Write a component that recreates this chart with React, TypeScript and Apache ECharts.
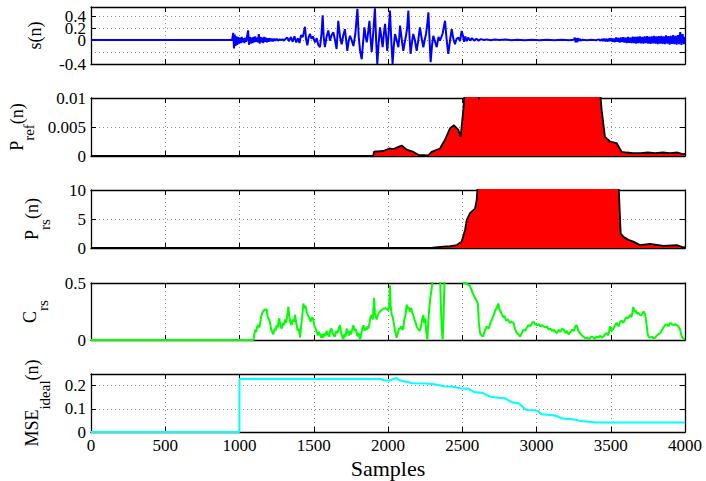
import React, { useEffect, useRef } from "react";
import * as echarts from "echarts";

// ---------- data ----------
const xTickValues = [0, 500, 1000, 1500, 2000, 2500, 3000, 3500, 4000];

// s(n)
const sN = [0, 950, 958, 963, 968, 973, 979, 985, 991, 997, 1003, 1009, 1015, 1021, 1027, 1033, 1039, 1045, 1051, 1058, 1064, 1070, 1076, 1082, 1088, 1094, 1100, 1106, 1112, 1118, 1124, 1130, 1136, 1142, 1148, 1154, 1160, 1166, 1172, 1178, 1184, 1190, 1196, 1202, 1210, 1218, 1226, 1234, 1242, 1250, 1260, 1270, 1280, 1290, 1300, 1310, 1322, 1334, 1346, 1358, 1370, 1382, 1394, 1404, 1414, 1426, 1434, 1441, 1448, 1457, 1466, 1475, 1485, 1494, 1509, 1520, 1530, 1542, 1552, 1560, 1567, 1575, 1586, 1598, 1609, 1620, 1632, 1643, 1654, 1665, 1677, 1688, 1699, 1710, 1718, 1726, 1735, 1744, 1755, 1767, 1780, 1794, 1803, 1812, 1823, 1832, 1841, 1849, 1857, 1866, 1875, 1882, 1890, 1900, 1912, 1920, 1928, 1937, 1946, 1955, 1964, 1972, 1980, 1988, 1995, 2004, 2013, 2022, 2031, 2039, 2047, 2058, 2070, 2076, 2081, 2092, 2103, 2112, 2121, 2129, 2137, 2145, 2152, 2161, 2170, 2181, 2193, 2204, 2215, 2227, 2238, 2247, 2256, 2264, 2272, 2280, 2287, 2296, 2305, 2316, 2328, 2340, 2350, 2367, 2384, 2395, 2406, 2418, 2429, 2440, 2451, 2462, 2474, 2485, 2496, 2504, 2512, 2520, 2530, 2540, 2552, 2565, 2580, 2595, 2610, 2625, 2645, 2665, 2690, 2720, 2750, 2790, 2830, 2870, 2920, 2970, 3020, 3070, 3120, 3170, 3220, 3250, 3258, 3263, 3268, 3273, 3278, 3283, 3290, 3298, 3310, 3340, 3370, 3400, 3420, 3430, 3440, 3448, 3456, 3464, 3472, 3480, 3488, 3496, 3504, 3512, 3520, 3528, 3536, 3544, 3552, 3560, 3568, 3576, 3584, 3592, 3600, 3608, 3616, 3624, 3632, 3640, 3648, 3656, 3664, 3672, 3680, 3688, 3696, 3704, 3712, 3720, 3728, 3736, 3744, 3752, 3760, 3768, 3776, 3784, 3792, 3800, 3808, 3816, 3824, 3832, 3840, 3848, 3856, 3864, 3872, 3880, 3888, 3896, 3904, 3912, 3920, 3928, 3936, 3944, 3952, 3960, 3968, 3976, 3984, 3992, 4000];
const sV = [0, 0, 0.12, -0.14, 0.09, -0.1, 0.06, -0.08, 0.05, -0.06, 0.04, -0.05, 0.05, -0.04, 0.03, -0.05, 0.04, -0.03, 0.06, 0.16, -0.08, 0.05, -0.06, 0.04, -0.05, 0.05, -0.04, 0.06, -0.03, 0.04, -0.04, 0.1, -0.06, 0.05, -0.04, 0.04, -0.05, 0.05, -0.03, 0.04, -0.04, 0.03, -0.03, 0.03, -0.02, 0.02, -0.02, 0.02, -0.01, 0.02, -0.01, 0.01, 0, 0.01, -0.01, 0.02, 0.04, -0.02, 0.05, -0.03, 0.06, -0.04, 0.03, -0.05, 0.08, 0.05, 0.14, 0.22, 0.02, -0.09, 0.05, 0.1, 0.02, 0.06, -0.04, 0.03, -0.08, -0.12, 0.1, 0.41, 0.05, -0.12, 0.05, 0.16, -0.01, 0.08, 0.13, 0, -0.15, 0.32, 0.05, -0.07, 0.08, 0.18, 0, -0.18, -0.02, 0.07, 0, -0.1, 0.1, 0.52, 0.05, -0.18, -0.32, -0.05, 0.21, 0.06, -0.04, 0.12, 0.32, 0.05, -0.2, 0.1, 0.53, 0, -0.4, -0.05, 0.21, 0.05, -0.12, 0.1, 0.27, 0.05, -0.18, 0.1, 0.49, 0, -0.4, -0.1, 0.1, 0, -0.12, 0.05, 0.24, 0.02, -0.18, -0.05, 0.07, 0.2, 0.49, 0.05, -0.23, -0.05, 0.1, 0, -0.18, 0, 0.21, 0.02, -0.12, 0, 0.1, 0.25, 0.46, 0, -0.37, -0.1, 0.07, -0.02, -0.12, 0.05, -0.01, 0.1, 0.32, 0, -0.23, 0, 0.18, 0.02, -0.07, 0.02, 0.04, -0.02, 0.15, 0.08, -0.03, 0.06, -0.02, 0.04, -0.01, 0.03, -0.01, 0.02, -0.01, 0.015, 0, 0.01, -0.005, 0.01, 0, 0.008, -0.004, 0.006, -0.004, 0.005, -0.003, 0.004, -0.003, 0.004, -0.003, 0.003, 0.04, -0.04, 0.03, -0.04, 0.035, -0.02, 0.02, -0.01, 0.005, -0.004, 0.006, -0.005, 0.01, -0.012, 0.015, -0.015, 0.02, -0.02, 0.02, -0.025, 0.025, -0.02, 0.03, -0.03, 0.025, -0.035, 0.04, -0.03, 0.035, -0.04, 0.04, -0.035, 0.045, -0.04, 0.04, -0.05, 0.05, -0.045, 0.04, -0.05, 0.055, -0.05, 0.05, -0.06, 0.055, -0.05, 0.06, -0.055, 0.05, -0.06, 0.06, -0.05, 0.065, -0.06, 0.055, -0.065, 0.06, -0.055, 0.07, -0.06, 0.06, -0.07, 0.065, -0.06, 0.07, -0.065, 0.06, -0.07, 0.075, -0.06, 0.065, -0.075, 0.07, -0.065, 0.08, -0.07, 0.07, -0.075, 0.08, -0.07, 0.13, -0.08, 0.1, -0.07, 0.05];

// P_ref(n)
const pRefN = [0, 1900, 1906, 1968, 2009, 2036, 2092, 2126, 2171, 2204, 2271, 2294, 2350, 2384, 2418, 2444, 2474, 2489, 2507, 2519, 2560, 2605, 2613, 2621, 2700, 3000, 3300, 3420, 3428, 3439, 3461, 3495, 3540, 3574, 3607, 3650, 3700, 3750, 3800, 3850, 3900, 3950, 3990, 4000];
const pRefV = [0, 0, 0.00074, 0.00086, 0.0013, 0.0012, 0.0018, 0.0011, 0.0007, 0.0002, 0.0001, 0.0007, 0.0013, 0.0028, 0.0048, 0.0053, 0.0045, 0.0033, 0.0079, 0.012, 0.03, 0.03, 0.0097, 0.03, 0.05, 0.06, 0.05, 0.02, 0.011, 0.0079, 0.0033, 0.0025, 0.0022, 0.0007, 0.0006, 0.0005, 0.0005, 0.0006, 0.0005, 0.0006, 0.0005, 0.0006, 0.0003, 0.0004];

// P_rs(n)
const pRsN = [0, 2300, 2373, 2418, 2463, 2496, 2519, 2530, 2552, 2586, 2597, 2608, 2700, 3000, 3300, 3551, 3567, 3585, 3619, 3652, 3697, 3765, 3855, 3944, 3989, 4000];
const pRsV = [0, 0.05, 0.23, 0.3, 0.5, 1.1, 3.1, 4.8, 6.0, 6.8, 8.3, 12, 30, 40, 30, 12, 2.5, 1.95, 1.4, 1.1, 0.5, 0.7, 0.35, 0.5, 0.1, 0.15];

// C_rs
const cN = [0, 1093, 1100, 1105, 1112, 1120, 1127, 1135, 1145, 1153, 1160, 1170, 1176, 1183, 1190, 1198, 1205, 1212, 1220, 1228, 1236, 1242, 1250, 1258, 1263, 1268, 1276, 1284, 1292, 1300, 1306, 1314, 1322, 1329, 1336, 1343, 1351, 1358, 1366, 1374, 1382, 1392, 1400, 1407, 1415, 1422, 1430, 1437, 1444, 1452, 1460, 1468, 1479, 1488, 1497, 1505, 1512, 1519, 1527, 1534, 1542, 1550, 1557, 1564, 1572, 1580, 1587, 1595, 1605, 1612, 1620, 1628, 1635, 1643, 1652, 1660, 1668, 1677, 1685, 1692, 1699, 1706, 1714, 1722, 1730, 1737, 1744, 1752, 1760, 1767, 1775, 1782, 1789, 1796, 1803, 1812, 1820, 1827, 1834, 1842, 1850, 1857, 1863, 1868, 1876, 1882, 1890, 1898, 1906, 1912, 1918, 1924, 1932, 1940, 1946, 1955, 1965, 1980, 1992, 2002, 2008, 2013, 2018, 2025, 2032, 2040, 2048, 2058, 2066, 2074, 2081, 2090, 2096, 2103, 2110, 2118, 2126, 2132, 2138, 2148, 2156, 2163, 2170, 2178, 2186, 2193, 2200, 2208, 2215, 2222, 2230, 2238, 2243, 2249, 2255, 2260, 2265, 2271, 2278, 2286, 2294, 2300, 2317, 2350, 2356, 2362, 2368, 2374, 2380, 2391, 2500, 2506, 2520, 2535, 2550, 2565, 2585, 2595, 2605, 2612, 2620, 2630, 2640, 2652, 2665, 2678, 2690, 2700, 2712, 2722, 2732, 2742, 2750, 2758, 2765, 2775, 2785, 2795, 2808, 2820, 2832, 2845, 2855, 2868, 2878, 2890, 2900, 2912, 2925, 2935, 2946, 2958, 2970, 2980, 2990, 3003, 3015, 3025, 3036, 3048, 3060, 3070, 3082, 3093, 3105, 3115, 3128, 3138, 3150, 3160, 3172, 3183, 3195, 3205, 3216, 3228, 3240, 3252, 3262, 3271, 3282, 3293, 3305, 3315, 3328, 3340, 3350, 3360, 3372, 3382, 3394, 3405, 3418, 3428, 3440, 3450, 3462, 3473, 3484, 3495, 3506, 3518, 3530, 3540, 3552, 3563, 3574, 3585, 3596, 3607, 3618, 3630, 3640, 3652, 3660, 3668, 3675, 3685, 3696, 3708, 3720, 3731, 3740, 3748, 3753, 3765, 3777, 3787, 3800, 3810, 3820, 3832, 3845, 3855, 3865, 3878, 3888, 3899, 3910, 3922, 3934, 3944, 3955, 3965, 3978, 3990, 4000];
const cV = [0, 0, 0.05, 0.09, 0.07, 0.12, 0.13, 0.11, 0.2, 0.24, 0.25, 0.27, 0.26, 0.27, 0.2, 0.18, 0.16, 0.1, 0.07, 0.05, 0.1, 0.08, 0.13, 0.11, 0.17, 0.19, 0.12, 0.1, 0.15, 0.13, 0.18, 0.15, 0.22, 0.29, 0.2, 0.15, 0.13, 0.18, 0.16, 0.22, 0.15, 0.08, 0.1, 0.02, 0.12, 0.2, 0.32, 0.28, 0.3, 0.25, 0.22, 0.2, 0.16, 0.2, 0.18, 0.12, 0.1, 0.08, 0.04, 0.07, 0.05, 0.02, 0.05, 0.02, 0.06, 0.04, 0.08, 0.05, 0.03, 0.09, 0.1, 0.06, 0.04, 0.03, 0.08, 0.06, 0.1, 0.13, 0.06, 0.03, 0.003, 0.05, 0.03, 0.1, 0.07, 0.04, 0.08, 0.05, 0.1, 0.13, 0.08, 0.1, 0.06, 0.03, 0.06, 0.003, 0.06, 0.1, 0.13, 0.08, 0.11, 0.09, 0.12, 0.1, 0.15, 0.2, 0.22, 0.18, 0.37, 0.24, 0.2, 0.18, 0.22, 0.24, 0.25, 0.26, 0.27, 0.28, 0.27, 0.26, 0.3, 0.48, 0.3, 0.22, 0.2, 0.14, 0.08, 0.02, 0.06, 0.1, 0.1, 0.12, 0.09, 0.1, 0.18, 0.22, 0.31, 0.27, 0.29, 0.25, 0.28, 0.24, 0.22, 0.18, 0.15, 0.12, 0.1, 0.09, 0.08, 0.12, 0.18, 0.22, 0.15, 0.19, 0.12, 0.05, 0.003, 0.15, 0.28, 0.38, 0.45, 0.52, 0.6, 0.6, 0.3, 0.1, 0, 0.2, 0.5, 0.6, 0.6, 0.5, 0.5, 0.49, 0.48, 0.43, 0.37, 0.35, 0.32, 0.15, 0.06, 0.04, 0.03, 0.08, 0.12, 0.1, 0.15, 0.18, 0.22, 0.26, 0.28, 0.32, 0.27, 0.25, 0.23, 0.2, 0.21, 0.17, 0.18, 0.15, 0.16, 0.15, 0.1, 0.06, 0.05, 0.03, 0.06, 0.09, 0.08, 0.11, 0.13, 0.12, 0.15, 0.16, 0.14, 0.13, 0.14, 0.12, 0.13, 0.12, 0.11, 0.12, 0.09, 0.1, 0.08, 0.09, 0.07, 0.06, 0.09, 0.07, 0.1, 0.09, 0.06, 0.08, 0.05, 0.07, 0.09, 0.08, 0.12, 0.13, 0.08, 0.06, 0.04, 0.03, 0.015, 0.02, 0.01, 0.015, 0.03, 0.02, 0.01, 0.03, 0.02, 0.04, 0.02, 0.03, 0.05, 0.06, 0.04, 0.12, 0.08, 0.1, 0.13, 0.15, 0.12, 0.16, 0.17, 0.15, 0.18, 0.2, 0.19, 0.22, 0.2, 0.29, 0.25, 0.26, 0.23, 0.24, 0.22, 0.22, 0.25, 0.23, 0.15, 0.06, 0.03, 0.02, 0.03, 0.015, 0.02, 0.04, 0.05, 0.06, 0.09, 0.11, 0.13, 0.14, 0.12, 0.15, 0.14, 0.13, 0.14, 0.13, 0.12, 0.1, 0.03, 0.01, 0.015];

// MSE_ideal(n)
const mseN = [0, 999, 1000, 1955, 1975, 2010, 2035, 2058, 2075, 2110, 2140, 2165, 2250, 2300, 2340, 2370, 2430, 2460, 2490, 2540, 2560, 2580, 2640, 2660, 2690, 2740, 2790, 2815, 2840, 2880, 2900, 2920, 2934, 2990, 3010, 3034, 3110, 3140, 3169, 3240, 3270, 3300, 3350, 3405, 4000];
const mseV = [0, 0, 0.228, 0.228, 0.222, 0.222, 0.228, 0.233, 0.224, 0.218, 0.214, 0.21, 0.209, 0.207, 0.203, 0.197, 0.196, 0.192, 0.189, 0.186, 0.18, 0.172, 0.168, 0.16, 0.152, 0.148, 0.145, 0.135, 0.127, 0.124, 0.112, 0.1, 0.095, 0.094, 0.09, 0.077, 0.072, 0.068, 0.058, 0.055, 0.052, 0.047, 0.044, 0.041, 0.041];

// y-axis ranges / ticks
const yMins = [-0.4, 0, 0, 0, 0];
const yMaxs = [0.55, 0.01, 10, 0.5, 0.25];
const yIntervals = [0.2, 0.005, 5, 0.5, 0.1];
const yNames = [
  "{m|s(n)}",
  "{m|P}{s|ref}{m|(n)}",
  "{m|P}{s|rs}{m|(n)}",
  "{m|C}{s|rs}",
  "{m|MSE}{s|ideal}{m|(n)}",
];
const xName = "Samples";

// ---------- layout / style ----------
const FONT = "'Liberation Serif', 'Times New Roman', serif";
const gridTops = [7, 98, 190, 283, 374];
const gridHeights = [57, 58, 58, 57, 58];
const nameGaps = [45, 46, 39, 41, 39];
const hideMax = [true, false, false, false, true];

const zip = (a: number[], b: number[]) => a.map((v, i) => [v, b[i]]);

export default function App() {
  const ref = useRef<HTMLDivElement>(null);
  useEffect(() => {
    if (!ref.current) return;
    const chart = echarts.init(ref.current, null, { renderer: "svg" });
    const grids: any[] = [];
    const xAxes: any[] = [];
    const yAxes: any[] = [];
    const black = "#000";
    const dotted = { show: true, lineStyle: { color: "#8a8a8a", type: [1, 3], width: 1 } };
    const plainFmt = (v: number) => String(v);
    for (let i = 0; i < 5; i++) {
      grids.push({
        left: 91,
        right: 21,
        top: gridTops[i],
        height: gridHeights[i],
        containLabel: false,
        outerBoundsMode: "none",
      });
      const last = i === 4;
      xAxes.push({
        gridIndex: i,
        type: "value",
        min: 0,
        max: 4000,
        interval: 500,
        position: "bottom",
        axisLine: { show: true, onZero: false, lineStyle: { color: black, width: 1.3 } },
        axisTick: { show: true, inside: true, length: 5, lineStyle: { color: black } },
        axisLabel: {
          show: last,
          fontFamily: FONT,
          fontSize: 17,
          color: black,
          margin: 5,
          formatter: plainFmt,
          showMinLabel: true,
          showMaxLabel: true,
          hideOverlap: false,
        },
        splitLine: dotted,
        name: last ? xName : "",
        nameLocation: "middle",
        nameGap: 25,
        nameTextStyle: { fontFamily: FONT, fontSize: 22, color: black },
      });
      xAxes.push({
        gridIndex: i,
        type: "value",
        min: 0,
        max: 4000,
        interval: 500,
        position: "top",
        axisLine: { show: true, onZero: false, lineStyle: { color: black, width: 1.3 } },
        axisTick: { show: true, inside: true, length: 5, lineStyle: { color: black } },
        axisLabel: { show: false },
        splitLine: { show: false },
      });
      yAxes.push({
        gridIndex: i,
        type: "value",
        min: yMins[i],
        max: yMaxs[i],
        interval: yIntervals[i],
        position: "left",
        axisLine: { show: true, onZero: false, lineStyle: { color: black, width: 1.3 } },
        axisTick: { show: true, inside: true, length: 5, lineStyle: { color: black } },
        axisLabel: {
          show: true,
          fontFamily: FONT,
          fontSize: 17,
          color: black,
          margin: 5,
          formatter: plainFmt,
          showMinLabel: true,
          showMaxLabel: hideMax[i] ? false : true,
          hideOverlap: false,
        },
        splitLine: dotted,
        name: yNames[i],
        nameLocation: "middle",
        nameRotate: 90,
        nameGap: nameGaps[i],
        nameTextStyle: {
          rich: {
            m: { fontFamily: FONT, fontSize: 18, lineHeight: 20, verticalAlign: "top", color: black },
            s: { fontFamily: FONT, fontSize: 15, lineHeight: 29, verticalAlign: "bottom", color: black },
          },
        },
      });
      yAxes.push({
        gridIndex: i,
        type: "value",
        min: yMins[i],
        max: yMaxs[i],
        interval: yIntervals[i],
        position: "right",
        axisLine: { show: true, onZero: false, lineStyle: { color: black, width: 1.3 } },
        axisTick: { show: true, inside: true, length: 5, lineStyle: { color: black } },
        axisLabel: { show: false },
        splitLine: { show: false },
      });
    }
    const lineBase = { type: "line", showSymbol: false, symbol: "none", clip: true };
    const series: any[] = [
      {
        ...lineBase,
        name: "s(n)",
        xAxisIndex: 0,
        yAxisIndex: 0,
        data: zip(sN, sV),
        lineStyle: { color: "#0000ff", width: 2 },
      },
      {
        ...lineBase,
        name: "Pref",
        xAxisIndex: 2,
        yAxisIndex: 2,
        data: zip(pRefN, pRefV),
        lineStyle: { color: "#000", width: 1.8 },
        areaStyle: { color: "#ff0000", opacity: 1 },
      },
      {
        ...lineBase,
        name: "Prs",
        xAxisIndex: 4,
        yAxisIndex: 4,
        data: zip(pRsN, pRsV),
        lineStyle: { color: "#000", width: 1.8 },
        areaStyle: { color: "#ff0000", opacity: 1 },
      },
      {
        ...lineBase,
        name: "Crs",
        xAxisIndex: 6,
        yAxisIndex: 6,
        data: zip(cN, cV),
        lineStyle: { color: "#00ff00", width: 2 },
      },
      {
        ...lineBase,
        name: "MSE",
        xAxisIndex: 8,
        yAxisIndex: 8,
        data: zip(mseN, mseV),
        lineStyle: { color: "#00ffff", width: 2 },
      },
    ];
    chart.setOption({
      animation: false,
      backgroundColor: "#fff",
      grid: grids,
      xAxis: xAxes,
      yAxis: yAxes,
      series,
    });
    return () => chart.dispose();
  }, []);
  return (
    <div
      ref={ref}
      style={{ position: "fixed", left: 0, top: 0, width: 706, height: 481 }}
    />
  );
}
